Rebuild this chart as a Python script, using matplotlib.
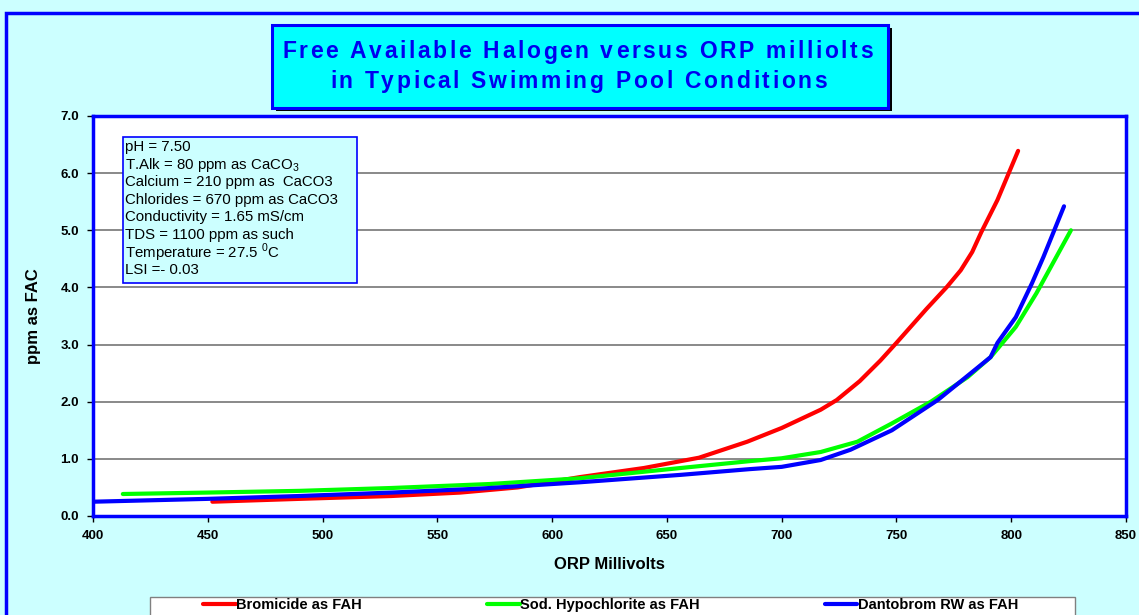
import numpy as np
import matplotlib.pyplot as plt
from matplotlib.patches import Rectangle
from matplotlib.textpath import TextToPath
from matplotlib.font_manager import FontProperties

plt.rcParams['font.family'] = ['Liberation Sans', 'DejaVu Sans']
plt.rcParams['mathtext.fontset'] = 'custom'
plt.rcParams['mathtext.rm'] = 'Liberation Sans'

# data (ORP mV, ppm as FAC)
brom_mv = [452, 490, 530, 560, 585, 612, 640, 664, 685, 700, 717, 724, 734, 743, 750,
           763, 772, 778, 783, 787, 794, 803]
brom_fah = [0.25, 0.30, 0.35, 0.41, 0.50, 0.68, 0.84, 1.02, 1.30, 1.54, 1.86, 2.03,
            2.36, 2.72, 3.03, 3.62, 4.01, 4.30, 4.62, 4.97, 5.53, 6.39]

hypo_mv = [413, 450, 490, 530, 573, 612, 656, 686, 700, 717, 733, 748, 765, 781, 791,
           802, 811, 826]
hypo_fah = [0.385, 0.41, 0.44, 0.49, 0.56, 0.66, 0.84, 0.96, 1.01, 1.12, 1.30, 1.62,
            2.00, 2.43, 2.78, 3.31, 3.90, 5.00]

danto_mv = [400, 450, 490, 530, 569, 612, 656, 686, 700, 717, 730, 748, 768, 791, 794,
            802, 809, 814, 823]
danto_fah = [0.25, 0.30, 0.35, 0.41, 0.48, 0.59, 0.72, 0.82, 0.86, 0.98, 1.16, 1.50,
             2.03, 2.78, 3.03, 3.48, 4.07, 4.53, 5.42]

title_lines = ["Free Available Halogen versus ORP milliolts",
               "in Typical Swimming Pool Conditions"]

info_lines = ["pH = 7.50",
              "T.Alk = 80 ppm as CaCO$_3$",
              "Calcium = 210 ppm as  CaCO3",
              "Chlorides = 670 ppm as CaCO3",
              "Conductivity = 1.65 mS/cm",
              "TDS = 1100 ppm as such",
              "Temperature = 27.5 $^0$C",
              "LSI =- 0.03"]

W, H = 1139, 615
fig = plt.figure(figsize=(W / 100, H / 100), dpi=100)
fig.patch.set_facecolor('#CCFFFF')


def fx(px):
    return px / W


def fy(py):
    return 1 - py / H


ttp = TextToPath()


def tracked_text(x0, base, s, size, track, **kw):
    # excel-style letter spacing: place chars one by one, track in px
    prop = FontProperties(family='Liberation Sans', weight='bold', size=size)
    x = x0
    for c in s:
        w = ttp.get_text_width_height_descent(c, prop, ismath=False)[0] * 100 / 72
        fig.text(fx(x), fy(base), c, fontproperties=prop, va='baseline', ha='left', **kw)
        x += w + track


# outer frame
fig.patches.append(Rectangle((fx(6), fy(640)), fx(1160) - fx(6), fy(13) - fy(640),
                             transform=fig.transFigure, fill=False, ec='#0000FF', lw=2.5))

# title box with shadow
fig.patches.append(Rectangle((fx(276), fy(111)), fx(892) - fx(276), fy(28) - fy(111),
                             transform=fig.transFigure, fc='black', ec='none'))
fig.patches.append(Rectangle((fx(272), fy(108)), fx(888) - fx(272), fy(25) - fy(108),
                             transform=fig.transFigure, fc='#00FFFF', ec='#0000FF', lw=2.2))
tracked_text(282, 58.5, title_lines[0], 16.5, 2.6, color='#0000EE')
tracked_text(330, 88, title_lines[1], 16.5, 2.6, color='#0000EE')

ax = fig.add_axes([fx(93), fy(516), fx(1126) - fx(93), fy(116) - fy(516)])
ax.set_facecolor('white')
ax.plot(brom_mv, brom_fah, color='#FF0000', lw=3, label='Bromicide as FAH',
        solid_capstyle='round', solid_joinstyle='round')
ax.plot(hypo_mv, hypo_fah, color='#00FF00', lw=3, label='Sod. Hypochlorite as FAH',
        solid_capstyle='round', solid_joinstyle='round')
ax.plot(danto_mv, danto_fah, color='#0000FF', lw=3, label='Dantobrom RW as FAH',
        solid_capstyle='round', solid_joinstyle='round')

ax.set_xlim(400, 850)
ax.set_ylim(0, 7)
ax.set_xticks(np.arange(400, 851, 50))
ax.set_yticks(np.arange(0, 7.1, 1))
ax.set_yticklabels([f"{v:.1f}" for v in np.arange(0, 7.1, 1)])
ax.grid(axis='y', color='#808080', lw=1.3)
ax.set_axisbelow(True)
for s in ax.spines.values():
    s.set_color('#0000FF')
    s.set_linewidth(2.5)
ax.tick_params(labelsize=9.5, length=4, width=1, color='black', pad=6)
for t in ax.get_xticklabels() + ax.get_yticklabels():
    t.set_fontweight('bold')
ax.set_xlabel("ORP Millivolts", fontsize=12, fontweight='bold', labelpad=11)
ax.set_ylabel("ppm as FAC", fontsize=12, fontweight='bold', labelpad=14)

# info box
ax.add_patch(Rectangle((fx(123), fy(283)), fx(357) - fx(123), fy(137) - fy(283),
                       transform=fig.transFigure, fc='#CCFFFF', ec='#0000FF', lw=1.2,
                       zorder=5))
for i, line in enumerate(info_lines):
    fig.text(fx(125), fy(147 + i * 17.6), line, fontsize=10.8, va='center', ha='left',
             zorder=6)

# legend box
fig.patches.append(Rectangle((fx(150), fy(640)), fx(1075) - fx(150), fy(597) - fy(640),
                             transform=fig.transFigure, fc='white', ec='#808080', lw=1))
h, l = ax.get_legend_handles_labels()
leg = fig.legend(h, l, ncol=3, loc='center', bbox_to_anchor=(fx(611), fy(605)),
                 frameon=False, fontsize=10.5, handlelength=2.2, handletextpad=0.05,
                 columnspacing=8.6)
for t in leg.get_texts():
    t.set_fontweight('bold')

fig.savefig('out.png', dpi=100, facecolor=fig.get_facecolor())
